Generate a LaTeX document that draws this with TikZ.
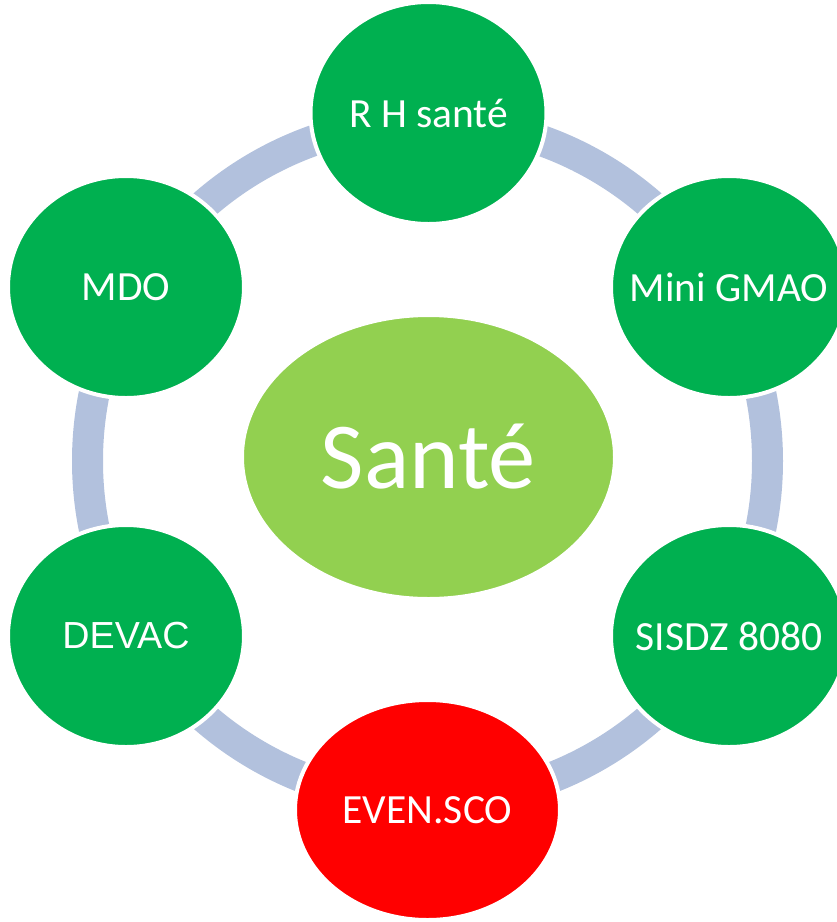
\documentclass[tikz,border=0pt]{standalone}
\usepackage{fontspec}
\setmainfont{Carlito}
\newfontfamily\arialfont{Liberation Sans}
\usetikzlibrary{shapes.geometric}
\definecolor{satgreen}{RGB}{0,176,80}
\definecolor{lightgreen}{RGB}{146,208,80}
\definecolor{alertred}{RGB}{255,0,0}
\definecolor{ringblue}{RGB}{178,193,221}
% zero-width label so the ellipse keeps its minimum size
\newcommand{\bubbletext}[1]{\makebox[0pt]{#1}}
\begin{document}
\begin{tikzpicture}[x=1pt, y=-1pt,
  bubble/.style={ellipse, draw=white, line width=4pt,
    minimum width=236pt, minimum height=222pt, inner sep=0pt,
    text=white, font=\fontsize{41.5}{48}\selectfont},
  core/.style={ellipse, fill=lightgreen, draw=white, line width=2pt,
    minimum width=371pt, minimum height=282pt, inner sep=0pt,
    text=white, font=\fontsize{94.5}{110}\selectfont},
  ringband/.style={draw=ringblue, line width=31pt}]
  \useasboundingbox (0,0) rectangle (837,922);
  \clip (0,0) rectangle (837,922);

  % cycle ring behind the satellites
  \coordinate (hub) at (427.5,461);
  \draw[ringband] (hub) circle[radius=340pt];

  % central topic
  \node[core] (sante) at (428.5,457) {\bubbletext{Santé}};

  % satellites
  \node[bubble, fill=satgreen] (rh)    at (428.5,113) {\bubbletext{R H santé}};
  \node[bubble, fill=satgreen] (gmao)  at (729,287)   {\bubbletext{Mini GMAO}};
  \node[bubble, fill=satgreen] (sisdz) at (729,636)   {\bubbletext{SISDZ 8080}};
  \node[bubble, fill=alertred, minimum width=265pt, minimum height=220pt]
       (even) at (427.5,810) {\bubbletext{EVEN.SCO}};
  \node[bubble, fill=satgreen, font=\arialfont\fontsize{37.7}{44}\selectfont]
       (devac) at (126,636) {\bubbletext{DEVAC}};
  \node[bubble, fill=satgreen] (mdo)   at (126,287)   {\bubbletext{MDO}};
\end{tikzpicture}
\end{document}
